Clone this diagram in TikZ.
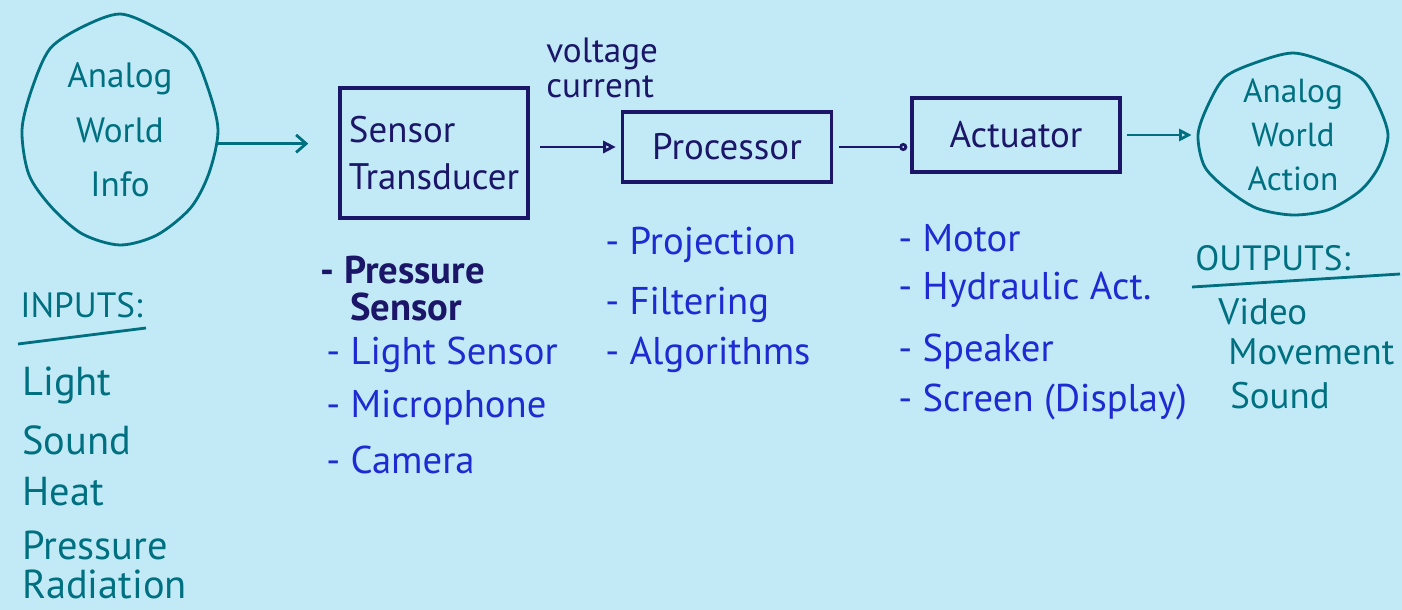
\documentclass[tikz,border=0pt]{standalone}
\usepackage{fontspec}
\setmainfont{PT Sans}
\usetikzlibrary{arrows.meta,shapes.geometric}
\definecolor{paper}{RGB}{193,234,246}
\definecolor{tealink}{RGB}{0,112,128}
\definecolor{navyink}{RGB}{28,22,105}
\definecolor{blueink}{RGB}{30,42,210}
\begin{document}
\begin{tikzpicture}[x=0.2mm,y=-0.2mm,
  box/.style={draw=navyink,line width=2pt,inner sep=0pt,text=navyink,font=\fontsize{21}{27}\selectfont},
  blob/.style={ellipse,inner sep=0pt,align=center,text=tealink},
  item/.style={anchor=west,inner sep=0pt,text=blueink,font=\fontsize{22}{26}\selectfont},
  wire/.style={line width=1.6pt}]
\fill[paper] (0,0) rectangle (1402,610);
\useasboundingbox (0,0) rectangle (1402,610);

% the two clouds
\node[blob,minimum width=39mm,minimum height=45mm,font=\fontsize{20}{31}\selectfont] (inW) at (120,130) {Analog\\World\\Info};
\draw[tealink,line width=1.6pt,shift={(inW.center)}] plot[smooth cycle] coordinates {(0:98 and 112) (22:96 and 115) (45:100 and 110) (67:95 and 114) (90:98 and 115) (112:101 and 112) (135:97 and 109) (157:99 and 114) (180:98 and 112) (202:95 and 110) (225:99 and 115) (247:96 and 112) (270:99 and 116) (292:97 and 110) (315:100 and 113) (337:95 and 111)};
\node[blob,minimum width=38mm,minimum height=32mm,font=\fontsize{19}{25}\selectfont] (outW) at (1293,135) {Analog\\World\\Action};
\draw[tealink,line width=1.6pt,shift={(outW.center)}] plot[smooth cycle] coordinates {(0:95 and 80) (22:93 and 82) (45:96 and 78) (67:92 and 81) (90:95 and 80) (112:97 and 79) (135:93 and 77) (157:96 and 81) (180:95 and 80) (202:92 and 78) (225:96 and 82) (247:93 and 79) (270:96 and 82) (292:94 and 78) (315:97 and 80) (337:92 and 79)};

% the chain of blocks
\node[box,minimum width=37.6mm,minimum height=26mm,align=left] (sens) at (434,153) {Sensor\\Transducer};
\node[box,minimum width=41.8mm,minimum height=14mm] (proc) at (727,147) {Processor};
\node[box,minimum width=41.6mm,minimum height=14.8mm] (act) at (1016,135) {Actuator};
\node[anchor=west,align=left,inner sep=0pt,text=navyink,font=\fontsize{20}{20}\selectfont] (volt) at (546,68) {voltage\\current};

\draw[wire,tealink,-{Straight Barb[length=2mm,width=3.5mm]},shorten >=6mm] (inW.-8) -- (sens.west |- inW.-8);
\draw[wire,navyink,-{Triangle[open,length=2.5mm,width=2.4mm]},shorten <=2mm,shorten >=1mm] (sens.east |- proc) -- (proc.west);
\draw[wire,navyink,-{Circle[open,length=1.6mm]},shorten <=1.2mm,shorten >=0.6mm] (proc.east) -- (act.west |- proc.east);
\draw[wire,tealink,-{Triangle[open,length=2.5mm,width=2.4mm]},shorten <=1mm,shorten >=1.2mm] (act.east) -- (outW.west);

% lists under the blocks
\node[item,text=navyink,font=\fontsize{22}{26}\selectfont\bfseries] (sp1) at (320,270) {- Pressure};
\node[item,text=navyink,font=\fontsize{22}{26}\selectfont\bfseries] (sp2) at (350,307) {Sensor};
\foreach \txt/\y [count=\i] in {- Light Sensor/355, - Microphone/408, - Camera/460}
  \node[item] (sl\i) at (326,\y) {\txt};
\foreach \txt/\y [count=\i] in {- Projection/245, - Filtering/305, - Algorithms/355}
  \node[item] (pl\i) at (605,\y) {\txt};
\foreach \txt/\y [count=\i] in {- Motor/238, - Hydraulic Act./290, - Speaker/352, - Screen (Display)/402}
  \node[item] (al\i) at (898,\y) {\txt};

% inputs and outputs
\node[item,text=tealink,font=\fontsize{20}{24}\selectfont] (inHead) at (20,305) {INPUTS:};
\draw[tealink,line width=1.6pt] (18,344) -- (146,328);
\foreach \txt/\y [count=\i] in {Light/385, Sound/440, Heat/492, Pressure/545, Radiation/584}
  \node[item,text=tealink,font=\fontsize{23}{26}\selectfont] (in\i) at (22,\y) {\txt};
\node[item,text=tealink,font=\fontsize{20}{24}\selectfont] (outHead) at (1195,258) {OUTPUTS:};
\draw[tealink,line width=1.6pt] (1192,287) -- (1400,274);
\foreach \txt/\y/\x [count=\i] in {Video/312/1218, Movement/352/1228, Sound/396/1230}
  \node[item,text=tealink,font=\fontsize{21}{24}\selectfont] (out\i) at (\x,\y) {\txt};
\end{tikzpicture}
\end{document}
